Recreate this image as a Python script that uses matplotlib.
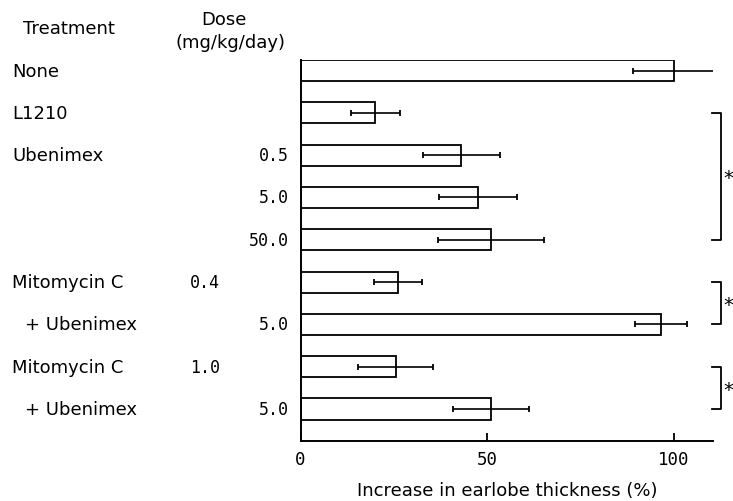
import matplotlib
matplotlib.use("Agg")
import matplotlib.pyplot as plt
import matplotlib.transforms as mtransforms

# data (top row first)
treatments = ["None", "L1210", "Ubenimex", "", "", "Mitomycin C", "+ Ubenimex", "Mitomycin C", "+ Ubenimex"]
doses_ube = ["", "", "0.5", "5.0", "50.0", "", "5.0", "", "5.0"]
doses_mmc = ["", "", "", "", "", "0.4", "", "1.0", ""]
means = [100, 20, 43, 47.5, 51, 26, 96.5, 25.5, 51]
errors = [11, 6.5, 10.3, 10.4, 14.2, 6.4, 7, 10, 10.2]
# significance brackets (row from, row to)
brackets = [(1, 4), (5, 6), (7, 8)]

fs = 13
mono = "DejaVu Sans Mono"

fig = plt.figure(figsize=(7.33, 5.02), dpi=100)
ax = fig.add_axes([0.410, 0.120, 0.5627, 0.7585])

pos = list(range(len(means)))
ax.barh(pos, means, height=0.5, color="white", edgecolor="black", linewidth=1.3)
ax.errorbar(means, pos, xerr=errors, fmt="none", ecolor="black",
            elinewidth=1.2, capsize=2.5, capthick=1.3)

ax.set_xlim(0, 110.4)
ax.set_ylim(8.75, -0.25)
ax.spines["top"].set_visible(False)
ax.spines["right"].set_visible(False)
for s in ("left", "bottom"):
    ax.spines[s].set_linewidth(1.4)
ax.set_yticks([])
ax.set_xticks([0, 50, 100])
ax.set_xticklabels(["0", "50", "100"], fontsize=12.5, family=mono)
ax.tick_params(axis="x", direction="in", length=6, width=1.3, pad=7)
ax.set_xlabel("Increase in earlobe thickness (%)", fontsize=fs, labelpad=9)

# left-hand labels, y follows the bars
tr = mtransforms.blended_transform_factory(fig.transFigure, ax.transData)
for i in pos:
    name = treatments[i]
    if name:
        x = 0.034 if name.startswith("+") else 0.0164
        ax.text(x, i, name, transform=tr, fontsize=fs, ha="left", va="center")
    if doses_ube[i]:
        ax.text(0.394, i, doses_ube[i], transform=tr, fontsize=12, family=mono,
                ha="right", va="center")
    if doses_mmc[i]:
        ax.text(0.259, i, doses_mmc[i], transform=tr, fontsize=12, family=mono,
                ha="left", va="center")

fig.text(0.031, 0.942, "Treatment", fontsize=fs, ha="left", va="center")
fig.text(0.306, 0.960, "Dose", fontsize=fs, ha="center", va="center")
fig.text(0.315, 0.914, "(mg/kg/day)", fontsize=fs, ha="center", va="center")

# brackets with asterisks
for a, b in brackets:
    ax.plot([110.2, 112.6, 112.6, 110.2], [a, a, b, b], color="black",
            linewidth=1.3, clip_on=False)
    ax.text(114.6, (a + b) / 2 + 0.03, "*", fontsize=14, ha="center",
            va="center", clip_on=False)

fig.savefig("out.png", dpi=100)
